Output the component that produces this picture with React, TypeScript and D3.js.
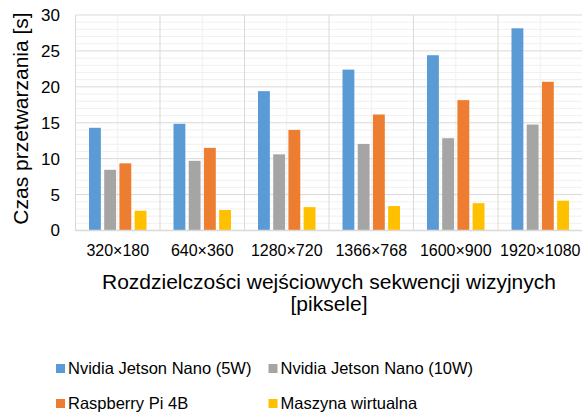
import React from "react";
import * as d3 from "d3";

const categories = ["320×180", "640×360", "1280×720", "1366×768", "1600×900", "1920×1080"];
const seriesNames = ["Nvidia Jetson Nano (5W)", "Nvidia Jetson Nano (10W)", "Raspberry Pi 4B", "Maszyna wirtualna"];
const jetson5W = [14.3, 14.85, 19.4, 22.4, 24.4, 28.15];
const jetson10W = [8.45, 9.7, 10.6, 12.05, 12.85, 14.75];
const raspberry = [9.35, 11.5, 14.0, 16.15, 18.15, 20.7];
const vm = [2.75, 2.85, 3.25, 3.4, 3.8, 4.15];
const colors = ["#5B9BD5", "#A5A5A5", "#ED7D31", "#FFC000"];
const yTicks = [0, 5, 10, 15, 20, 25, 30];
const yTitle = "Czas przetwarzania [s]";
const xTitle1 = "Rozdzielczości wejściowych sekwencji wizyjnych";
const xTitle2 = "[piksele]";

const W = 582, H = 414;
const left = 75.5, right = 582.5, top = 15, bottom = 230.5;
const FONT = "'Liberation Sans', Arial, sans-serif";

export default function App() {
  const series = [jetson5W, jetson10W, raspberry, vm];
  const x0 = d3.scaleBand<string>().domain(categories).range([left, right]).padding(0);
  const bw = x0.bandwidth();
  const x1 = d3.scaleBand<number>().domain([0, 1, 2, 3]).range([13.5, bw - 13.5]).paddingInner(0.22);
  const y = d3.scaleLinear().domain([0, 30]).range([bottom, top]);
  const minor = d3.range(0, 31, 1).filter((v) => v % 5 !== 0);

  return (
    <svg width={W} height={H} style={{ position: "absolute", left: 0, top: 0, background: "#fff" }}>
      <rect x={0} y={0} width={W} height={H} fill="#fff" />
      {minor.map((v) => (
        <line key={"m" + v} x1={left} x2={right} y1={y(v)} y2={y(v)} stroke="#f0f0f0" strokeWidth={1} />
      ))}
      {categories.map((c) => (
        <line key={"vc" + c} x1={x0(c)! + bw / 2} x2={x0(c)! + bw / 2} y1={top} y2={bottom} stroke="#f0f0f0" strokeWidth={1} />
      ))}
      {yTicks.map((v) => (
        <line key={"g" + v} x1={left} x2={right} y1={y(v)} y2={y(v)} stroke="#d9d9d9" strokeWidth={1} />
      ))}
      {categories.map((c) => (
        <line key={"vb" + c} x1={x0(c)!} x2={x0(c)!} y1={top} y2={bottom} stroke="#d9d9d9" strokeWidth={1} />
      ))}
      {categories.map((c, i) => (
        <g key={"b" + c}>
          {series.map((s, k) => (
            <rect key={k} x={x0(c)! + x1(k)!} y={y(s[i])} width={x1.bandwidth()} height={y(0) - y(s[i])} fill={colors[k]} />
          ))}
        </g>
      ))}
      <line x1={left} x2={right} y1={bottom} y2={bottom} stroke="#d9d9d9" strokeWidth={1.5} />
      {yTicks.map((v) => (
        <text key={"t" + v} x={60} y={y(v)} dy="0.35em" textAnchor="end" fontSize={17} fontFamily={FONT} fill="#000">{v}</text>
      ))}
      {categories.map((c) => (
        <text key={"c" + c} x={x0(c)! + bw / 2} y={250} dy="0.35em" textAnchor="middle" fontSize={16} fontFamily={FONT} fill="#000">{c}</text>
      ))}
      <text transform={`translate(21,118.5) rotate(-90)`} dy="0.35em" textAnchor="middle" fontSize={21} fontFamily={FONT} fill="#000">{yTitle}</text>
      <text x={329} y={281.5} dy="0.35em" textAnchor="middle" fontSize={21} fontFamily={FONT} fill="#000">{xTitle1}</text>
      <text x={329} y={303.5} dy="0.35em" textAnchor="middle" fontSize={21} fontFamily={FONT} fill="#000">{xTitle2}</text>
      {seriesNames.map((n, k) => {
        const lx = k % 2 === 0 ? 56 : 268.5;
        const ly = k < 2 ? 368.5 : 403.5;
        return (
          <g key={"l" + k}>
            <rect x={lx} y={ly - 4.5} width={9} height={9} fill={colors[k]} />
            <text x={lx + 12} y={ly} dy="0.35em" fontSize={16.5} fontFamily={FONT} fill="#000">{n}</text>
          </g>
        );
      })}
    </svg>
  );
}
